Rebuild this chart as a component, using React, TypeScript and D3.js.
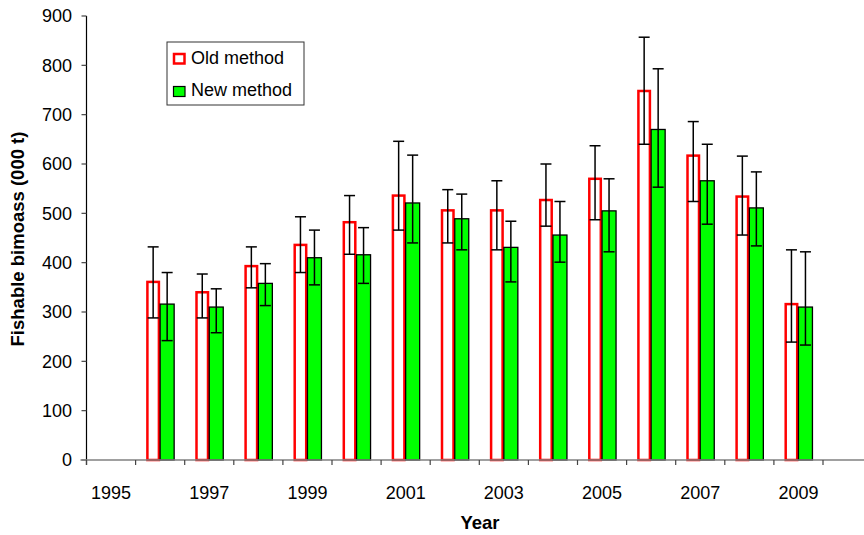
import React from "react";
import * as d3 from "d3";

// Years on the category axis (every other one labelled)
const years = [1995, 1996, 1997, 1998, 1999, 2000, 2001, 2002, 2003, 2004, 2005, 2006, 2007, 2008, 2009];
const tickLabels = ["1995", "1997", "1999", "2001", "2003", "2005", "2007", "2009"];
const yTicks = [0, 100, 200, 300, 400, 500, 600, 700, 800, 900];

// Fishable biomass estimates, 1996–2009 (000 t)
const barYears = [1996, 1997, 1998, 1999, 2000, 2001, 2002, 2003, 2004, 2005, 2006, 2007, 2008, 2009];
const oldMethod = [361, 340, 393, 436, 482, 536, 506, 506, 527, 570, 748, 617, 534, 316];
const oldLower = [288, 288, 349, 380, 417, 466, 440, 426, 474, 487, 640, 524, 456, 239];
const oldUpper = [432, 377, 432, 493, 536, 646, 548, 566, 600, 637, 857, 686, 616, 426];
const newMethod = [316, 310, 358, 410, 416, 521, 489, 431, 456, 505, 670, 566, 511, 310];
const newLower = [242, 258, 313, 355, 358, 440, 426, 361, 401, 422, 553, 478, 434, 233];
const newUpper = [380, 347, 398, 466, 471, 618, 539, 484, 524, 570, 793, 640, 584, 422];

const W = 864;
const H = 535;
const FONT = "Liberation Sans, Arial, sans-serif";

export default function App() {
  const left = 86.5;
  const right = 823;
  const top = 16;
  const bottom = 460;

  const x = d3.scaleBand<number>().domain(years).range([left, right]).padding(0);
  const y = d3.scaleLinear().domain([0, 900]).range([bottom, top]);
  const bw = 14;
  const cap = 5.5;

  const tickXs = years.map((yr) => x(yr)!).concat([right]);

  return (
    <svg width={W} height={H} style={{ position: "absolute", left: 0, top: 0, background: "#fff" }}>
      {/* y axis */}
      <line x1={left} x2={left} y1={top} y2={bottom + 5} stroke="#000" strokeWidth={1.2} />
      {yTicks.map((t) => (
        <g key={t}>
          <line x1={left - 5} x2={left} y1={y(t)} y2={y(t)} stroke="#444" strokeWidth={1.2} />
          <text x={72} y={y(t)} dy="0.36em" textAnchor="end" fontFamily={FONT} fontSize={18} fill="#000">
            {t}
          </text>
        </g>
      ))}

      {/* bars */}
      {barYears.map((yr, i) => {
        const c = x(yr)! + x.bandwidth() / 2;
        const xo = c - bw;
        const xn = c;
        return (
          <g key={yr}>
            <rect x={xo + 1.25} y={y(oldMethod[i])} width={bw - 2.5} height={bottom - y(oldMethod[i])}
              fill="#fff" stroke="#ff0000" strokeWidth={2.5} />
            <rect x={xn} y={y(newMethod[i])} width={bw} height={bottom - y(newMethod[i])}
              fill="#00ff00" stroke="#000" strokeWidth={1.3} />
          </g>
        );
      })}

      {/* error bars */}
      {barYears.map((yr, i) => {
        const c = x(yr)! + x.bandwidth() / 2;
        const xo = c - bw / 2;
        const xn = c + bw / 2;
        return (
          <g key={"e" + yr} stroke="#000" strokeWidth={1.5}>
            <line x1={xo} x2={xo} y1={y(oldLower[i])} y2={y(oldUpper[i])} />
            <line x1={xo - cap} x2={xo + cap} y1={y(oldUpper[i])} y2={y(oldUpper[i])} />
            <line x1={xo - cap} x2={xo + cap} y1={y(oldLower[i])} y2={y(oldLower[i])} />
            <line x1={xn} x2={xn} y1={y(newLower[i])} y2={y(newUpper[i])} />
            <line x1={xn - cap} x2={xn + cap} y1={y(newUpper[i])} y2={y(newUpper[i])} />
            <line x1={xn - cap} x2={xn + cap} y1={y(newLower[i])} y2={y(newLower[i])} />
          </g>
        );
      })}

      {/* x axis */}
      <line x1={left - 6} x2={W} y1={bottom} y2={bottom} stroke="#808080" strokeWidth={1.5} />
      {tickXs.map((tx, i) => (
        <line key={i} x1={tx} x2={tx} y1={bottom} y2={bottom + 5} stroke="#444" strokeWidth={1.2} />
      ))}
      {tickLabels.map((lab) => {
        const yr = +lab;
        return (
          <text key={lab} x={x(yr)! + x.bandwidth() / 2} y={499} textAnchor="middle"
            fontFamily={FONT} fontSize={18} fill="#000">
            {lab}
          </text>
        );
      })}

      {/* axis titles */}
      <text x={480} y={529} textAnchor="middle" fontFamily={FONT} fontSize={18.5} fontWeight="bold">
        Year
      </text>
      <text transform="translate(24,239) rotate(-90)" textAnchor="middle" fontFamily={FONT}
        fontSize={18.5} fontWeight="bold">
        Fishable bimoass (000 t)
      </text>

      {/* legend */}
      <rect x={167} y={42} width={137} height={63} fill="#fff" stroke="#333" strokeWidth={1} />
      <rect x={174} y={54} width={10.5} height={9.5} fill="#fff" stroke="#ff0000" strokeWidth={2.5} />
      <text x={191} y={58} dy="0.36em" fontFamily={FONT} fontSize={18}>Old method</text>
      <rect x={173.5} y={86.5} width={11.5} height={10} fill="#00ff00" stroke="#000" strokeWidth={1.2} />
      <text x={191} y={90} dy="0.36em" fontFamily={FONT} fontSize={18}>New method</text>
    </svg>
  );
}
